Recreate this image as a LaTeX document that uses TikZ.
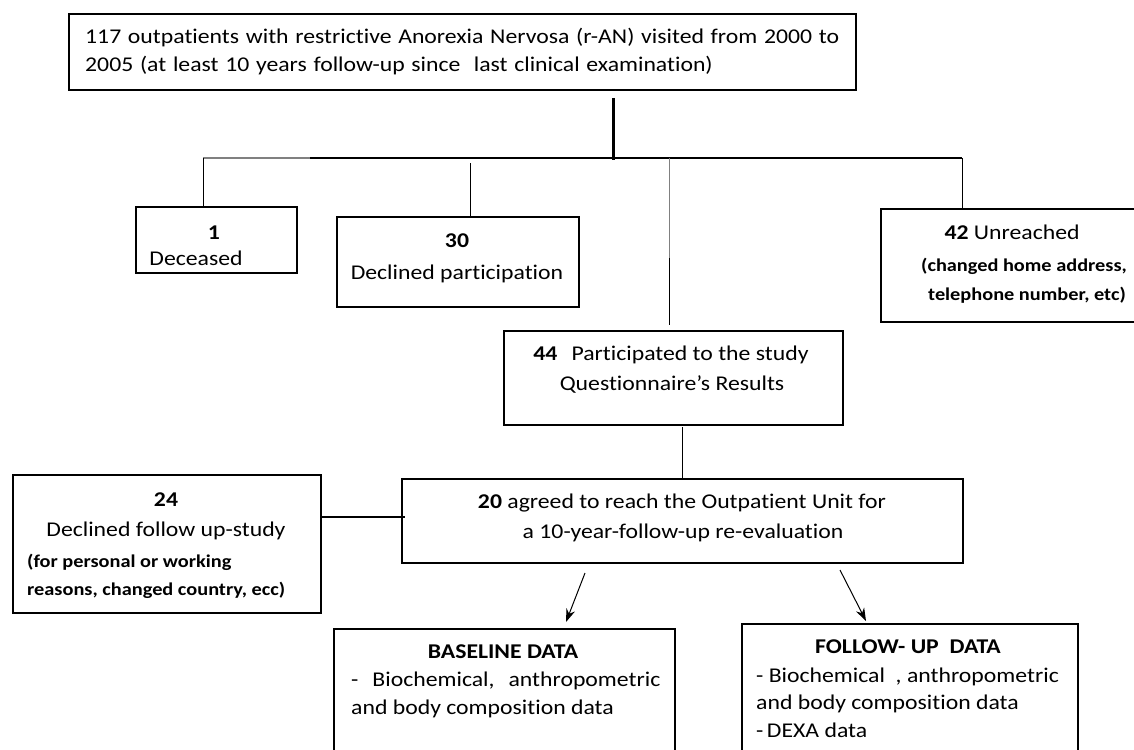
\documentclass[tikz,border=0pt]{standalone}
\usepackage{fontspec}
\setmainfont{Carlito}[FakeStretch=1.13, Ligatures=NoCommon]
\usetikzlibrary{arrows.meta}
\newcommand\widespacing{\spaceskip=6.7pt plus 1pt\relax}
\begin{document}
\begin{tikzpicture}[x=1pt,y=-1pt,
  box/.style={draw=black, line width=1.6pt, inner sep=0pt, anchor=north west},
  txt/.style={inner sep=0pt, font=\fontsize{21}{26}\selectfont},
  wide/.style={inner sep=0pt, font=\fontsize{21}{26}\selectfont\widespacing},
  small/.style={inner sep=0pt, font=\fontsize{18}{22}\selectfont\bfseries},
  conn/.style={draw=black, line width=1pt},
  arr/.style={draw=black, line width=1pt, -{Stealth[length=13pt,width=9pt]}}]
\useasboundingbox (0,0) rectangle (1134,749);
\clip (0,0) rectangle (1134,749);
% boxes
\node[box, line width=2pt, minimum width=787pt, minimum height=76pt] (top) at (68,13) {};
\node[box, minimum width=161pt, minimum height=66pt] (dec) at (135,206) {};
\node[box, minimum width=242pt, minimum height=90pt] (decl) at (336,216) {};
\node[box, minimum width=300pt, minimum height=113pt] (unr) at (880,208) {};
\node[box, minimum width=339pt, minimum height=94pt] (part) at (503,330) {};
\node[box, minimum width=561pt, minimum height=84pt] (agr) at (401,478) {};
\node[box, minimum width=308pt, minimum height=138pt] (d24) at (12,474) {};
\node[box, minimum width=341pt, minimum height=160pt] (base) at (333,628) {};
\node[box, minimum width=336pt, minimum height=160pt] (fup) at (741,623) {};
% texts
\node[wide, anchor=base west] (t1a) at (85,44) {117 outpatients with restrictive Anorexia Nervosa (r-AN) visited from 2000 to};
\node[wide, anchor=base west] (t1b) at (85,72) {2005 (at least 10 years follow-up since\ \ last clinical examination)};
\node[txt, anchor=base] (tdec1) at (214,239) {\textbf{1}};
\node[txt, anchor=base] (tdec2) at (196,265) {Deceased};
\node[txt, anchor=base] (tdecl1) at (457,247) {\textbf{30}};
\node[txt, anchor=base] (tdecl2) at (457,279) {Declined participation};
\node[txt, anchor=base] (tunr1) at (1012,239) {\textbf{42} Unreached};
\node[small, anchor=base] (tunr2) at (1024,271) {(changed home address,};
\node[small, anchor=base] (tunr3) at (1027,300) {telephone number, etc)};
\node[txt, anchor=base] (tpart1) at (671,360) {\textbf{44}\hspace{14pt}Participated to the study};
\node[txt, anchor=base] (tpart2) at (672,390) {Questionnaire’s Results};
\node[txt, anchor=base] (tagr1) at (682,508) {\textbf{20} agreed to reach the Outpatient Unit for};
\node[txt, anchor=base] (tagr2) at (683,538) {a 10-year-follow-up re-evaluation};
\node[txt, anchor=base] (t24a) at (166,506) {\textbf{24}};
\node[txt, anchor=base] (t24b) at (166,536) {Declined follow up-study};
\node[small, anchor=base west] (t24c) at (27,567) {(for personal or working};
\node[small, anchor=base west] (t24d) at (27,595) {reasons, changed country, ecc)};
\node[txt, anchor=base] (tb1) at (503,658) {\textbf{BASELINE DATA}};
\node[txt, anchor=base west] (tb2) at (351,686) {-\hspace{14pt}Biochemical,\hspace{14pt}anthropometric};
\node[txt, anchor=base west] (tb3) at (351,714) {and body composition data};
\node[txt, anchor=base] (tf1) at (908,653) {\textbf{FOLLOW- UP\ \ DATA}};
\node[txt, anchor=base west] (tf2) at (756,682) {-\ Biochemical\ \ , anthropometric};
\node[txt, anchor=base west] (tf3) at (756,709) {and body composition data};
\node[txt, anchor=base west] (tf4) at (756,737) {-\,DEXA data};
% connectors
\coordinate (v0) at (613,98);
\coordinate (v1) at (613,160);
\coordinate (bl) at (203,158);
\coordinate (bg) at (310,158);
\coordinate (br) at (962,158);
\coordinate (b2) at (470,163);
\coordinate (b3) at (669,158);
\coordinate (b3m) at (669,258);
\coordinate (b3e) at (669,325);
\draw[line width=3pt] (v0) -- (v1);
\draw[line width=1.2pt, gray] (bl) -- (bg);
\draw[line width=1.8pt] (bg) -- (br);
\draw[conn] (bl) -- (bl |- dec.north);
\draw[conn] (b2) -- (b2 |- decl.north);
\draw[conn, gray] (b3) -- (b3m);
\draw[conn] (b3m) -- (b3e);
\draw[conn] (br) -- (br |- unr.north);
\coordinate (pa) at (682,427);
\draw[conn] (pa) -- (pa |- agr.north);
\coordinate (h24) at (320,517);
\coordinate (h20) at (405,517);
\draw[line width=1.6pt] (h24) -- (h20);
\coordinate (a1s) at (585,573);
\coordinate (a1e) at (566,622);
\coordinate (a2s) at (840,570);
\coordinate (a2e) at (866,621);
\draw[arr] (a1s) -- (a1e);
\draw[arr] (a2s) -- (a2e);
\end{tikzpicture}
\end{document}
